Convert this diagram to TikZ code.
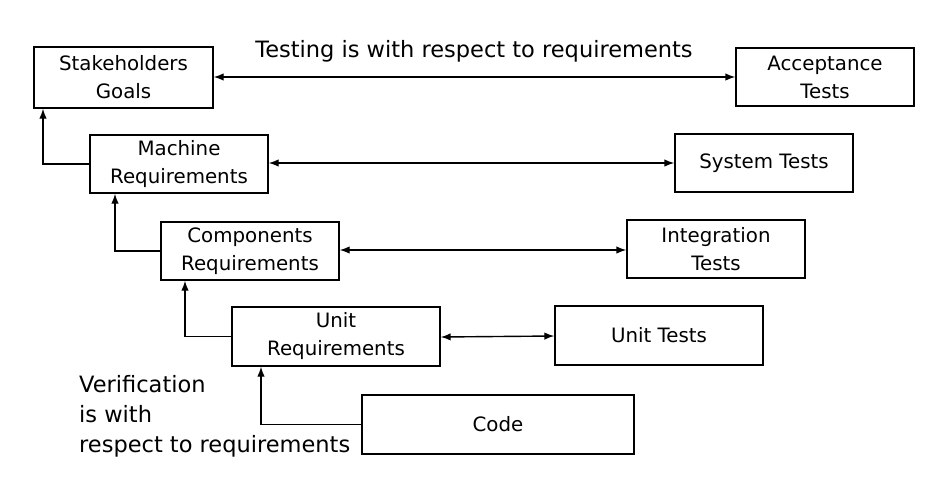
\documentclass[tikz,border=0pt]{standalone}
\usepackage{fontspec}
\setmainfont{DejaVu Sans}
\usetikzlibrary{arrows.meta,calc}
\begin{document}
\begin{tikzpicture}[x=1pt,y=-1pt,
  box/.style={draw,line width=1.4pt,inner sep=0pt,align=center,font=\fontsize{19.8}{28}\selectfont},
  conn/.style={line width=1.4pt,{Latex[length=10pt,width=7.5pt]}-{Latex[length=10pt,width=7.5pt]}},
  up/.style={line width=1.4pt,-{Latex[length=10pt,width=7.5pt]}},
  lbl/.style={font=\fontsize{22.5}{30}\selectfont,inner sep=0pt}]
\useasboundingbox (0,0) rectangle (935,483);
\node[box,minimum width=179pt,minimum height=61pt] (sg) at (123.5,77.5) {Stakeholders\\Goals};
\node[box,minimum width=178pt,minimum height=58pt] (at) at (825,77) {Acceptance\\Tests};
\node[box,minimum width=178pt,minimum height=58pt] (mr) at (179,164) {Machine\\Requirements};
\node[box,minimum width=178pt,minimum height=58pt] (st) at (764,163) {System Tests};
\node[box,minimum width=178pt,minimum height=58pt] (cr) at (250,251) {Components\\Requirements};
\node[box,minimum width=178pt,minimum height=58pt] (it) at (716,249) {Integration\\Tests};
\node[box,minimum width=208pt,minimum height=59pt] (ur) at (336,336.5) {Unit\\Requirements};
\node[box,minimum width=208pt,minimum height=59pt] (ut) at (659,335.5) {Unit Tests};
\node[box,minimum width=272pt,minimum height=59pt] (cd) at (498,424.5) {Code};
\draw[conn] (sg.east |- 0,77) -- (at.west |- 0,77);
\draw[conn] (mr.east |- 0,163) -- (st.west |- 0,163);
\draw[conn] (cr.east |- 0,250) -- (it.west |- 0,250);
\draw[conn] (ur.east |- 0,337) -- (ut.west |- 0,336);
\draw[up] (mr.west) -| (sg.south -| 43,0);
\draw[up] (cr.west) -| (mr.south -| 115,0);
\draw[up] (ur.west) -| (cr.south -| 185,0);
\draw[up] (cd.west) -| (ur.south -| 261,0);
\node[lbl] (tl) at (474,51) {Testing is with respect to requirements};
\node[lbl,anchor=west,align=left] (vl) at (79,416) {Verification\\is with\\respect to requirements};
\end{tikzpicture}
\end{document}
